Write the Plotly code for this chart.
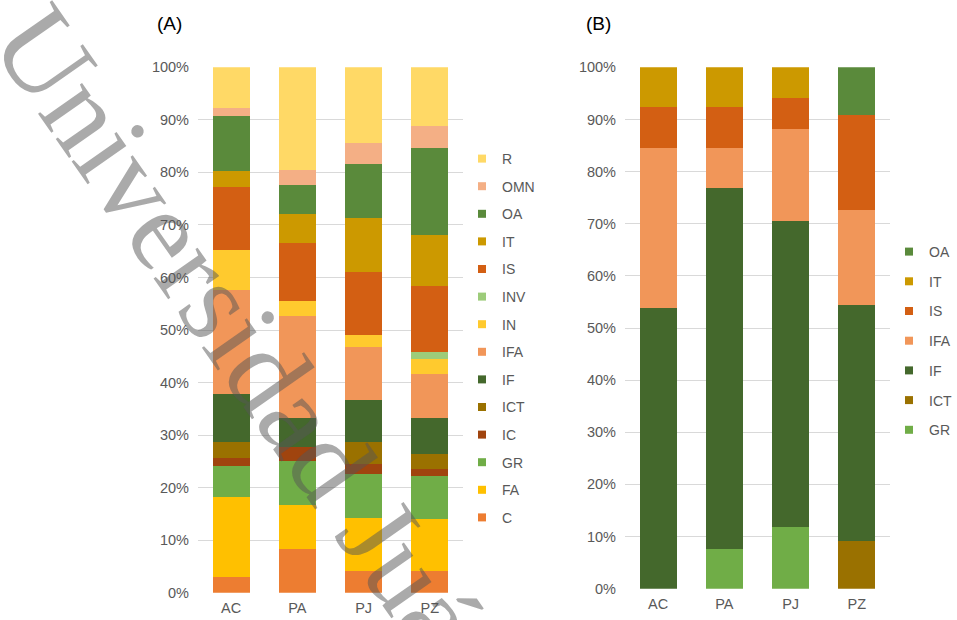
import plotly.graph_objects as go

# Sites (x categories)
sites = ["AC", "PA", "PJ", "PZ"]

# Panel (A): share (%) of each category per site, stacked bottom -> top
cats_a = ["C", "FA", "GR", "IC", "ICT", "IF", "IFA", "IN", "INV", "IS", "IT", "OA", "OMN", "R"]
a_C = [3.0, 8.4, 4.2, 4.2]
a_FA = [15.2, 8.3, 10.1, 9.8]
a_GR = [6.0, 8.4, 8.2, 8.2]
a_IC = [1.4, 2.7, 2.0, 1.4]
a_ICT = [3.1, 0.0, 4.1, 2.8]
a_IF = [9.1, 5.4, 8.1, 6.8]
a_IFA = [19.8, 19.5, 10.1, 8.4]
a_IN = [7.6, 2.9, 2.2, 2.8]
a_INV = [0.0, 0.0, 0.0, 1.4]
a_IS = [12.0, 11.0, 12.1, 12.6]
a_IT = [3.1, 5.5, 10.3, 9.7]
a_OA = [10.4, 5.5, 10.2, 16.5]
a_OMN = [1.6, 2.9, 4.0, 4.2]
a_R = [7.7, 19.5, 14.4, 11.2]
vals_a = [a_C, a_FA, a_GR, a_IC, a_ICT, a_IF, a_IFA, a_IN, a_INV, a_IS, a_IT, a_OA, a_OMN, a_R]

# Panel (B): share (%) per site, stacked bottom -> top
cats_b = ["GR", "ICT", "IF", "IFA", "IS", "IT", "OA"]
b_GR = [0.0, 7.7, 11.8, 0.0]
b_ICT = [0.0, 0.0, 0.0, 9.1]
b_IF = [53.8, 69.2, 58.8, 45.4]
b_IFA = [30.8, 7.7, 17.6, 18.2]
b_IS = [7.7, 7.7, 5.9, 18.2]
b_IT = [7.7, 7.7, 5.9, 0.0]
b_OA = [0.0, 0.0, 0.0, 9.1]
vals_b = [b_GR, b_ICT, b_IF, b_IFA, b_IS, b_IT, b_OA]

y_ticks = [0, 10, 20, 30, 40, 50, 60, 70, 80, 90, 100]
y_tick_text = ["0%", "10%", "20%", "30%", "40%", "50%", "60%", "70%", "80%", "90%", "100%"]

colors = {
    "C": "#ED7D31", "FA": "#FFC000", "GR": "#70AD47", "IC": "#A0440E",
    "ICT": "#9A7100", "IF": "#44682C", "IFA": "#F19659", "IN": "#FFCA2E",
    "INV": "#9DCC7A", "IS": "#D35F13", "IT": "#CC9900", "OA": "#5A8A3B",
    "OMN": "#F4AF85", "R": "#FFD966",
}

W, H = 957, 620
TXT = "#595959"
FONT = "Liberation Sans, Arial, sans-serif"

fig = go.Figure()


def add_panel(cats, vals, xa, ya, legend_name):
    for cat, v in zip(cats, vals):
        fig.add_trace(go.Bar(
            x=sites, y=v, name=cat, marker=dict(color=colors[cat], line=dict(width=0)),
            xaxis=xa, yaxis=ya, showlegend=False, hoverinfo="name+y",
        ))
    # legend entries, listed top -> bottom
    for cat in reversed(cats):
        fig.add_trace(go.Scatter(
            x=[None], y=[None], mode="markers", name=cat,
            marker=dict(symbol="square", size=8, color=colors[cat]),
            xaxis=xa, yaxis=ya, legend=legend_name, legendgroup=legend_name + cat,
        ))


add_panel(cats_a, vals_a, "x", "y", "legend")
add_panel(cats_b, vals_b, "x2", "y2", "legend2")

axis_y = dict(range=[0, 100], tickmode="array", tickvals=y_ticks, ticktext=y_tick_text,
              showgrid=True, gridcolor="#D9D9D9", gridwidth=1, zeroline=False, showline=False,
              tickfont=dict(family=FONT, size=14.5, color=TXT), ticks="",
              ticklabelstandoff=8, fixedrange=True)
axis_x = dict(showgrid=False, zeroline=False, showline=False, ticks="",
              tickfont=dict(family=FONT, size=14.5, color=TXT), ticklabelstandoff=5,
              fixedrange=True)

legend_common = dict(font=dict(family=FONT, size=14, color=TXT), bgcolor="rgba(0,0,0,0)",
                     borderwidth=0, traceorder="grouped", xanchor="left", yanchor="top",
                     itemwidth=30, itemclick=False, itemdoubleclick=False)

fig.update_layout(
    width=W, height=H, margin=dict(l=0, r=0, t=0, b=0, autoexpand=False),
    paper_bgcolor="white", plot_bgcolor="white",
    barmode="stack", bargap=0.44,
    xaxis=dict(domain=[198 / W, 463 / W], anchor="y", **axis_x),
    yaxis=dict(domain=[1 - 592.7 / H, 1 - 67.3 / H], anchor="x", **axis_y),
    xaxis2=dict(domain=[625 / W, 890 / W], anchor="y2", **axis_x),
    yaxis2=dict(domain=[1 - 588.7 / H, 1 - 67.3 / H], anchor="x2", **axis_y),
    legend=dict(x=462 / W, y=1 - 143 / H, tracegroupgap=6.4, **legend_common),
    legend2=dict(x=889 / W, y=1 - 236 / H, tracegroupgap=8.5, **legend_common),
    showlegend=True,
)

# Panel titles
for label, px in (("(A)", 169), ("(B)", 598)):
    fig.add_annotation(text=label, x=px / W, y=1 - 24 / H, xref="paper", yref="paper",
                       showarrow=False, xanchor="center", yanchor="middle",
                       font=dict(family=FONT, size=19, color="#000000"))

# Diagonal institutional watermark
fig.add_annotation(text="Universidad Juárez", x=279 / W, y=1 - 388 / H,
                   xref="paper", yref="paper", showarrow=False,
                   xanchor="center", yanchor="middle", textangle=55,
                   font=dict(family="Liberation Serif, Times New Roman, serif", size=117,
                             color="rgba(85,85,85,0.5)"))

fig.write_html("out.html")
